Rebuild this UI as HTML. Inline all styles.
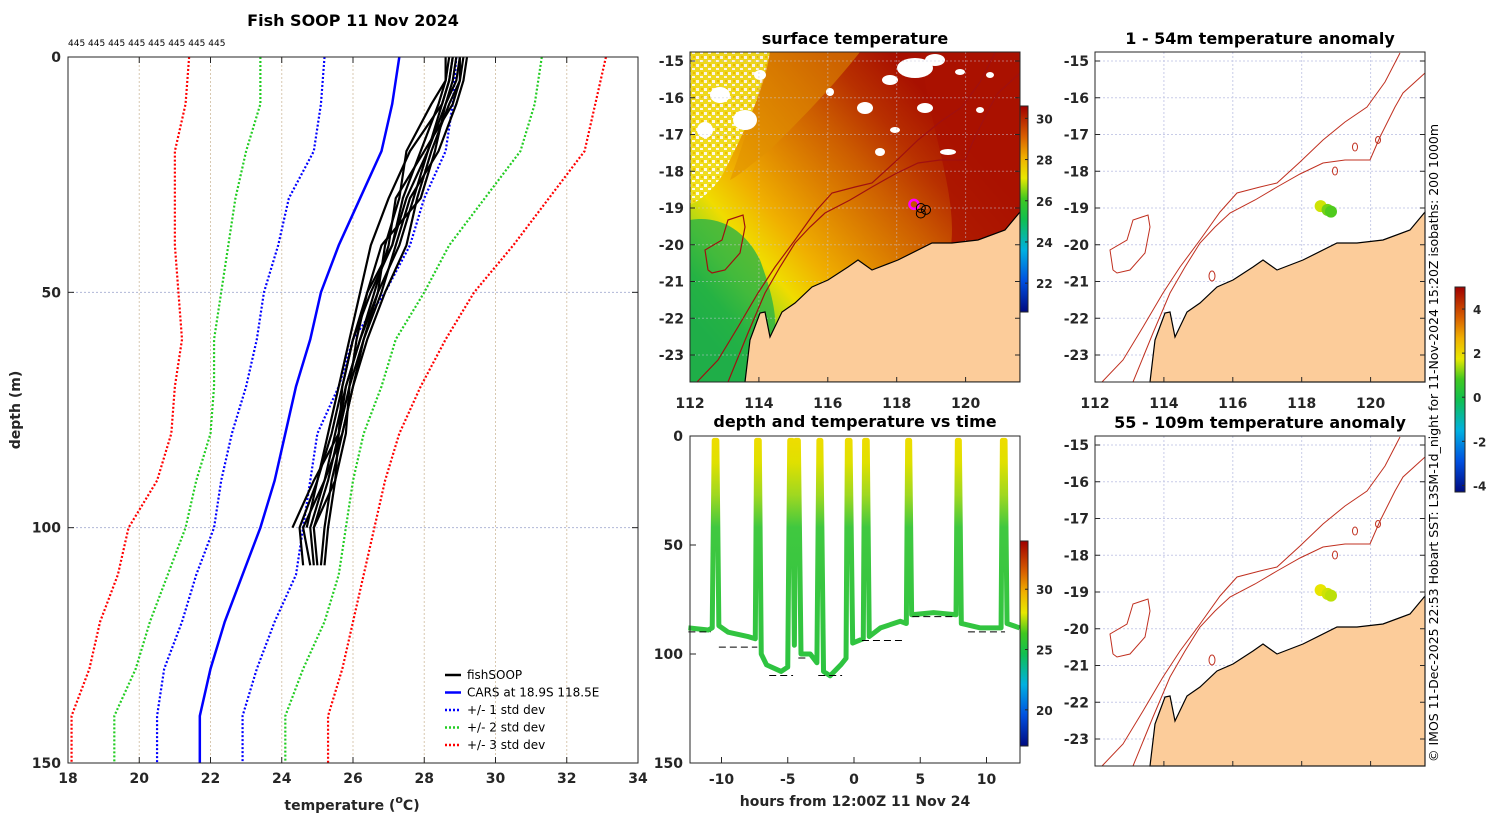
<!DOCTYPE html>
<html><head><meta charset="utf-8"><style>
html,body{margin:0;padding:0;background:#fff}
svg{display:block;font-family:"DejaVu Sans","Liberation Sans",sans-serif}
.tk{font-size:14px;font-weight:bold;fill:#262626}
.ttl{font-size:16px;font-weight:bold;fill:#000}
</style></head><body>
<svg id="fig" width="1500" height="820" viewBox="0 0 1500 820" xmlns="http://www.w3.org/2000/svg">
<defs>
<linearGradient id="sstGrad" gradientUnits="userSpaceOnUse" x1="700" y1="330" x2="990" y2="80">
<stop offset="0" stop-color="#18a84a"/><stop offset="0.08" stop-color="#30b838"/><stop offset="0.16" stop-color="#a8d818"/><stop offset="0.24" stop-color="#f0dc00"/><stop offset="0.34" stop-color="#f0b000"/><stop offset="0.46" stop-color="#e08800"/><stop offset="0.6" stop-color="#cc5c00"/><stop offset="0.72" stop-color="#b83000"/><stop offset="0.85" stop-color="#a81000"/>
</linearGradient>
<linearGradient id="cbJet" x1="0" y1="1" x2="0" y2="0">
<stop offset="0" stop-color="#000a80"/><stop offset="0.15" stop-color="#0050e0"/><stop offset="0.3" stop-color="#00b0e0"/><stop offset="0.45" stop-color="#10c050"/><stop offset="0.55" stop-color="#40c820"/><stop offset="0.65" stop-color="#e8e800"/><stop offset="0.75" stop-color="#f0b000"/><stop offset="0.85" stop-color="#d86000"/><stop offset="1" stop-color="#a00000"/>
</linearGradient>
<linearGradient id="diveGrad" gradientUnits="userSpaceOnUse" x1="0" y1="436" x2="0" y2="763">
<stop offset="0" stop-color="#f0dc00"/><stop offset="0.08" stop-color="#e0e000"/><stop offset="0.18" stop-color="#a0d820"/><stop offset="0.28" stop-color="#40c840"/><stop offset="1" stop-color="#20c040"/>
</linearGradient>
<pattern id="speckle" width="8" height="8" patternUnits="userSpaceOnUse">
<rect width="8" height="8" fill="#f0e020"/><rect x="0" y="0" width="3" height="3" fill="#fff"/><rect x="4" y="4" width="3" height="2" fill="#fff"/><rect x="5" y="0" width="2" height="2" fill="#f0c000"/>
</pattern>
<clipPath id="clipMid"><rect x="690" y="52" width="330" height="330"/></clipPath>
</defs>
<g id="root"></g>
</svg>
<script>
// ---------- data ----------
const depthLevels=[0,10,20,30,40,50,60,70,80,90,100,110,120,130,140,150];
const carsMean=[27.3,27.1,26.8,26.2,25.6,25.1,24.8,24.4,24.1,23.8,23.4,22.9,22.4,22.0,21.7,21.7];
const lo1=[25.2,25.1,24.9,24.2,23.9,23.5,23.3,23.0,22.6,22.3,22.1,21.6,21.2,20.7,20.5,20.5];
const hi1=[28.9,28.8,28.6,28.0,27.6,26.9,26.0,25.6,25.0,24.8,24.6,24.4,23.8,23.3,22.9,22.9];
const lo2=[23.4,23.4,23.0,22.7,22.5,22.3,22.1,22.1,22.0,21.6,21.3,20.8,20.3,19.9,19.3,19.3];
const hi2=[31.3,31.1,30.7,29.7,28.7,28.0,27.2,26.8,26.3,26.0,25.8,25.6,25.2,24.6,24.1,24.1];
const lo3=[21.4,21.3,21.0,21.0,21.0,21.1,21.2,21.0,20.9,20.5,19.7,19.4,18.9,18.6,18.1,18.1];
const hi3=[33.1,32.8,32.5,31.5,30.5,29.4,28.6,27.9,27.3,26.9,26.6,26.3,26.0,25.7,25.3,25.3];
const fishDepths=[0,5,10,20,30,40,50,60,70,80,90,100,108];
const fishProfiles=[
[29.0,29.0,28.8,28.0,27.2,27.0,26.6,26.2,25.8,25.6,25.3,24.9,25.0],
[29.2,29.1,28.9,28.4,27.6,27.2,26.8,26.3,26.0,25.7,25.2,24.6,24.8],
[28.8,28.7,28.5,27.6,27.0,26.5,26.2,25.9,25.6,25.3,25.0,24.5,24.6],
[28.6,28.6,28.4,27.9,27.4,27.1,26.5,26.0,25.7,25.4,25.0,24.7],
[29.1,29.0,28.7,28.2,27.8,27.5,26.9,26.4,26.0,25.7,25.4,25.2,25.1],
[28.9,28.8,28.6,28.3,27.9,26.8,26.4,26.1,25.9,25.8,25.5,24.9],
[28.7,28.6,28.2,27.5,27.3,26.9,26.7,26.3,25.9,25.6,25.5,25.3,25.2],
[29.0,28.9,28.6,28.1,27.7,27.3,26.7,26.2,25.8,25.5,25.2,24.8,24.9],
[28.8,28.7,28.5,28.1,27.5,27.1,26.4,26.0,25.7,25.6,24.9,24.3]
];
const diveHours=[-12.5,-11,-10.7,-10.55,-10.35,-10.2,-9.5,-8,-7.45,-7.35,-7.15,-7.0,-6.6,-5.5,-5.0,-4.85,-4.65,-4.5,-4.4,-4.2,-4.0,-3.3,-2.8,-2.65,-2.5,-2.3,-1.8,-1.0,-0.6,-0.5,-0.3,-0.1,0.7,0.8,1.0,1.15,2,3.5,3.95,4.05,4.2,4.35,6,7.7,7.8,7.95,8.1,9.5,11.1,11.2,11.4,11.55,12.5];
const diveDepths=[88,89,88,2,2,87,90,92,93,2,2,100,105,108,106,2,2,96,2,2,100,100,104,2,2,108,110,105,102,2,2,95,93,2,2,92,88,85,86,2,2,82,81,82,2,2,86,88,88,2,2,86,88];
const dashStart=[-12.5,-10.2,-6.4,-4.2,-2.7,0.6,4.4,8.6];
const dashEnd=[-10.8,-7.3,-4.6,-3.4,-0.9,3.8,7.6,11.4];
const dashDepth=[88,95,108,100,108,92,81,88];
const anomLon=[118.55,118.75,118.85];
const anomLat=[-18.95,-19.05,-19.1];
const anomVal1=[1.6,1.1,0.9];
const anomVal2=[1.8,1.6,1.5];
const cbSST=[22,24,26,28,30];
const cbDive=[20,25,30];
const cbAnom=[-4,-2,0,2,4];
const tempTicks=[18,20,22,24,26,28,30,32,34];
const depthTicks=[0,50,100,150];
const hourTicks=[-10,-5,0,5,10];
const diveDepthTicks=[0,50,100,150];
const lonTicks=[112,114,116,118,120];
const latTicks=[-15,-16,-17,-18,-19,-20,-21,-22,-23];
const shipLon=[118.5,118.7,118.85,118.7];
const shipLat=[-18.9,-19.0,-19.05,-19.15];

// ---------- helpers ----------
const NS="http://www.w3.org/2000/svg";
const root=document.getElementById('root');
function mk(tag,attrs,parent,text){const e=document.createElementNS(NS,tag);for(const k in attrs)e.setAttribute(k,attrs[k]);if(text!==undefined)e.textContent=text;(parent||root).appendChild(e);return e;}
const X=t=>68+(t-18)*35.625, Y=d=>57+d*4.7067;
const XT=h=>854+h*13.25, YD=d=>436+d*2.18;
const LX=(ox,lon)=>ox+(lon-112)*34.45, LY=(oy,lat)=>oy+9+(-15-lat)*36.75;

// ---------- left profile panel ----------
const gL=mk('g',{});


mk('rect',{x:68,y:57,width:570,height:706,fill:'#fff',stroke:'none'},gL);
tempTicks.slice(1,-1).forEach(t=>{const l=mk('line',{x1:X(t),x2:X(t),y1:57,y2:763,stroke:'#d8c8b0','stroke-width':1,'stroke-dasharray':'2,2'},gL);});
[50,100].forEach(d=>{const l=mk('line',{x1:68,x2:638,y1:Y(d),y2:Y(d),stroke:'#b0b8d8','stroke-width':1,'stroke-dasharray':'2,2'},gL);});
function prof(arr,color,dash,name,w){const p=mk('polyline',{points:arr.map((t,i)=>X(t)+','+Y(depthLevels[i])).join(' '),fill:'none',stroke:color,'stroke-width':w,'stroke-dasharray':dash},gL);}
prof(lo3,'#f00','2,2','minus-3-std-line',2.2);prof(hi3,'#f00','2,2','plus-3-std-line',2.2);
prof(lo2,'#2c2','2,2','minus-2-std-line',2.2);prof(hi2,'#2c2','2,2','plus-2-std-line',2.2);
prof(lo1,'#00f','2,2','minus-1-std-line',2.2);prof(hi1,'#00f','2,2','plus-1-std-line',2.2);
prof(carsMean,'#00f','none','cars-mean-line',2.5);
fishProfiles.forEach(pr=>{const p=mk('polyline',{points:pr.map((t,i)=>X(t)+','+Y(fishDepths[i])).join(' '),fill:'none',stroke:'#000','stroke-width':2.2,'stroke-linejoin':'round'},gL);});
mk('rect',{x:68,y:57,width:570,height:706,fill:'none',stroke:'#262626','stroke-width':1},gL);
tempTicks.forEach(t=>{mk('line',{x1:X(t),x2:X(t),y1:763,y2:757,stroke:'#262626'},gL);mk('line',{x1:X(t),x2:X(t),y1:57,y2:63,stroke:'#262626'},gL);const s=mk('text',{x:X(t),y:783,'text-anchor':'middle',class:'tk'},gL,t);});
depthTicks.forEach(d=>{mk('line',{x1:68,x2:74,y1:Y(d),y2:Y(d),stroke:'#262626'},gL);mk('line',{x1:638,x2:632,y1:Y(d),y2:Y(d),stroke:'#262626'},gL);const s=mk('text',{x:61,y:Y(d)+5,'text-anchor':'end',class:'tk'},gL,d);});
let s=mk('text',{x:353,y:26,'text-anchor':'middle',class:'ttl'},gL,'Fish SOOP 11 Nov 2024');
s=mk('text',{x:68,y:46,'font-size':'9px',fill:'#000'},gL,'445 445 445 445 445 445 445 445');
s=mk('text',{x:352,y:810,'text-anchor':'middle',class:'tk','font-size':'16px'},gL);s.innerHTML='temperature (<tspan font-size="11px" dy="-7">o</tspan><tspan dy="7">C)</tspan>';
s=mk('text',{x:20,y:410,'text-anchor':'middle',class:'tk','font-size':'16px',transform:'rotate(-90 20 410)'},gL,'depth (m)');
const legItems=[['#000','none','fishSOOP'],['#00f','none','CARS at 18.9S 118.5E'],['#00f','2,2','+/- 1 std dev'],['#2c2','2,2','+/- 2 std dev'],['#f00','2,2','+/- 3 std dev']];
legItems.forEach((it,i)=>{const y=675+i*17.5;const g=mk('g',{},gL);mk('line',{x1:445,x2:461,y1:y,y2:y,stroke:it[0],'stroke-width':2.5,'stroke-dasharray':it[1]},g);mk('text',{x:467,y:y+4,'font-size':'12px',fill:'#000'},g,it[2]);});

// ---------- maps ----------
const coast=[[55,330],[60,288],[70,261],[75,260],[80,285],[92,260],[105,251],[122,235],[138,228],[158,215],[168,208],[182,218],[208,208],[242,191],[262,191],[288,188],[315,178],[330,160],[330,330]];
const isoA=[[38,330],[58,281],[75,241],[90,215],[105,191],[120,175],[135,161],[160,148],[182,135],[205,122],[228,111],[250,108],[275,108],[285,85],[300,55],[308,41],[330,21]];
const isoB=[[7,330],[28,308],[48,275],[68,241],[85,215],[105,188],[125,160],[142,141],[165,135],[182,131],[205,110],[228,88],[250,70],[272,55],[290,30],[305,1]];
const island=[[18,218],[15,198],[32,188],[38,168],[53,163],[55,175],[50,201],[35,218],[22,221],[18,218]];
const pts=(a,ox,oy)=>a.map(p=>(p[0]+ox)+','+(p[1]+oy)).join(' ');
function mapAxes(g,ox,oy,showX){
 lonTicks.forEach(l=>{mk('line',{x1:LX(ox,l),x2:LX(ox,l),y1:oy+330,y2:oy+325,stroke:'#262626'},g);if(showX){const t=mk('text',{x:LX(ox,l),y:oy+356,'text-anchor':'middle',class:'tk'},g,l);}});
 latTicks.forEach(l=>{mk('line',{x1:ox,x2:ox+5,y1:LY(oy,l),y2:LY(oy,l),stroke:'#262626'},g);mk('line',{x1:ox+330,x2:ox+325,y1:LY(oy,l),y2:LY(oy,l),stroke:'#262626'},g);const t=mk('text',{x:ox-6,y:LY(oy,l)+5,'text-anchor':'end',class:'tk'},g,l);});
 mk('rect',{x:ox,y:oy,width:330,height:330,fill:'none',stroke:'#262626'},g);
}
function mapGrid(g,ox,oy,col){
 lonTicks.slice(1).forEach(l=>mk('line',{x1:LX(ox,l),x2:LX(ox,l),y1:oy,y2:oy+330,stroke:col,'stroke-dasharray':'2,2'},g));
 latTicks.forEach(l=>mk('line',{x1:ox,x2:ox+330,y1:LY(oy,l),y2:LY(oy,l),stroke:col,'stroke-dasharray':'2,2'},g));
}
function colorbar(g,x,y,w,h,vmin,vmax,ticks,name){
 const c=mk('rect',{x:x,y:y,width:w,height:h,fill:'url(#cbJet)',stroke:'#262626'},g);
 ticks.forEach(v=>{const yy=y+h-(v-vmin)/(vmax-vmin)*h;mk('line',{x1:x+w-3,x2:x+w,y1:yy,y2:yy,stroke:'#262626'},g);mk('text',{x:x+w+8,y:yy+5,'font-size':'12px','font-weight':'bold',fill:'#262626'},g,v);});
}
function anomColor(v){const f=(v+4.3)/9.3;const stops=[[0,[0,10,128]],[0.15,[0,80,224]],[0.3,[0,176,224]],[0.45,[16,192,80]],[0.55,[64,200,32]],[0.65,[232,232,0]],[0.75,[240,176,0]],[0.85,[216,96,0]],[1,[160,0,0]]];for(let i=1;i<stops.length;i++){if(f<=stops[i][0]){const a=stops[i-1],b=stops[i],k=(f-a[0])/(b[0]-a[0]);return 'rgb('+a[1].map((c,j)=>Math.round(c+(b[1][j]-c)*k)).join(',')+')';}}return 'rgb(160,0,0)';}

// SST map
const gS=mk('g',{});


const gSc=mk('g',{'clip-path':'url(#clipMid)'},gS);
mk('rect',{x:690,y:52,width:330,height:330,fill:'url(#sstGrad)'},gSc);
mk('path',{d:'M690,52 L770,52 C765,90 740,140 725,170 C715,190 700,200 690,205 Z',fill:'url(#speckle)',opacity:0.9},gSc);
mk('path',{d:'M770,52 L860,52 C830,90 800,120 770,150 C750,165 740,175 730,180 C745,140 760,90 770,52 Z',fill:'#e09000',opacity:0.55},gSc);
mk('path',{d:'M690,220 C720,215 745,230 760,260 C775,300 780,330 770,345 L745,382 L690,382 Z',fill:'#22b048',opacity:0.75},gSc);
mk('path',{d:'M920,52 L1020,52 L1020,220 C1000,240 970,250 950,252 C960,200 930,130 920,52 Z',fill:'#aa1200',opacity:0.8},gSc);
[[915,68,18,10],[935,60,10,6],[890,80,8,5],[865,108,8,6],[925,108,8,5],[948,152,8,3],[880,152,5,4],[960,72,5,3],[990,75,4,3],[720,95,10,8],[745,120,12,10],[705,130,8,8],[760,75,6,5],[830,92,4,4],[980,110,4,3],[895,130,5,3]].forEach(c=>{const e=mk('ellipse',{cx:c[0],cy:c[1],rx:c[2],ry:c[3],fill:'#fff'},gSc);});
mapGrid(gSc,690,52,'rgba(200,200,220,0.5)');
let p=mk('polygon',{points:pts(coast,690,52),fill:'#fccc9a',stroke:'#000','stroke-width':1.2},gSc);
[isoA,isoB].forEach(a=>{const q=mk('polyline',{points:pts(a,690,52),fill:'none',stroke:'#a01010','stroke-width':1.2},gSc);});
mk('polyline',{points:pts(island,690,52),fill:'none',stroke:'#a01010','stroke-width':1.2},gSc);
shipLon.forEach((l,i)=>{const c=mk('circle',{cx:LX(690,l),cy:LY(52,shipLat[i]),r:4.5,fill:'none',stroke:i===0?'#f0f':'#000','stroke-width':i===0?2.5:1},gSc);});
mapAxes(gS,690,52,true);
s=mk('text',{x:855,y:44,'text-anchor':'middle',class:'ttl'},gS,'surface temperature');
colorbar(gS,1020,106,8,206,20.6,30.6,cbSST,'sst-colorbar');

// anomaly maps
function anomMap(oy,vals,title,name){
 const g=mk('g',{});
 mk('rect',{x:1095,y:oy,width:330,height:330,fill:'#fff'},g);
 mapGrid(g,1095,oy,'#c8cce8');
 const l=mk('polygon',{points:pts(coast,1095,oy),fill:'#fccc9a',stroke:'#000','stroke-width':1.2},g);
 [isoA,isoB].forEach(a=>{const q=mk('polyline',{points:pts(a,1095,oy),fill:'none',stroke:'#c03020','stroke-width':1},g);});
 mk('polyline',{points:pts(island,1095,oy),fill:'none',stroke:'#c03020','stroke-width':1},g);
 [[260,95,2.5,4],[283,88,2.5,3.5],[240,119,2.5,4],[117,224,3,5]].forEach(e=>mk('ellipse',{cx:1095+e[0],cy:oy+e[1],rx:e[2],ry:e[3],fill:'none',stroke:'#c03020'},g));
 anomLon.forEach((lo,i)=>{const c=mk('circle',{cx:LX(1095,lo),cy:LY(oy,anomLat[i]),r:6,fill:anomColor(vals[i])},g);});
 mapAxes(g,1095,oy,oy<100);
 const t=mk('text',{x:1260,y:oy-8,'text-anchor':'middle',class:'ttl'},g,title);
}
anomMap(52,anomVal1,'1 - 54m temperature anomaly','anomaly-map-shallow');
anomMap(436,anomVal2,'55 - 109m temperature anomaly','anomaly-map-deep');
colorbar(root,1455,287,10,205,-4.3,5,cbAnom,'anomaly-colorbar');
s=mk('text',{x:1438,y:762,'font-size':'12.5px',fill:'#000',transform:'rotate(-90 1438 762)'},root,'© IMOS 11-Dec-2025 22:53 Hobart SST: L3SM-1d_night for 11-Nov-2024 15:20Z isobaths: 200  1000m');

// ---------- dive panel ----------
const gD=mk('g',{});


mk('rect',{x:690,y:436,width:330,height:327,fill:'#fff'},gD);
p=mk('polyline',{points:diveHours.map((h,i)=>XT(h)+','+YD(diveDepths[i])).join(' '),fill:'none',stroke:'url(#diveGrad)','stroke-width':5,'stroke-linejoin':'round'},gD);
dashStart.forEach((a,i)=>{const l=mk('line',{x1:XT(a),x2:XT(dashEnd[i]),y1:YD(dashDepth[i])+4,y2:YD(dashDepth[i])+4,stroke:'#000','stroke-width':1,'stroke-dasharray':'7,4'},gD);});
mk('rect',{x:690,y:436,width:330,height:327,fill:'none',stroke:'#262626'},gD);
hourTicks.forEach(h=>{mk('line',{x1:XT(h),x2:XT(h),y1:763,y2:757,stroke:'#262626'},gD);const t=mk('text',{x:XT(h),y:784,'text-anchor':'middle',class:'tk'},gD,h);});
diveDepthTicks.forEach(d=>{mk('line',{x1:690,x2:696,y1:YD(d),y2:YD(d),stroke:'#262626'},gD);const t=mk('text',{x:683,y:YD(d)+5,'text-anchor':'end',class:'tk'},gD,d);});
s=mk('text',{x:855,y:427,'text-anchor':'middle',class:'ttl'},gD,'depth and temperature vs time');
s=mk('text',{x:855,y:806,'text-anchor':'middle',class:'tk','font-size':'16px'},gD,'hours from 12:00Z 11 Nov 24');
colorbar(gD,1020,541,8,205,17,34,cbDive,'dive-colorbar');
</script>
</body></html>
